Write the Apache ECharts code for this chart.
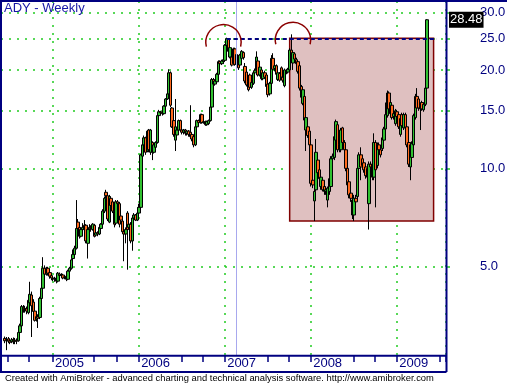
<!DOCTYPE html>
<html><head><meta charset="utf-8">
<script src="https://cdn.jsdelivr.net/npm/echarts@6/dist/echarts.min.js"></script>
<style>html,body{margin:0;padding:0;background:#fff}#c{width:507px;height:384px}</style>
</head><body><div id="c"></div>
<script>
// ---- data (weekly candles: [open, close, low, high]) ----
const firstCategoryDate = '2004-06-04';
const categoryCount = 269;
const firstBarIndex = 2;
const ohlc2004 = [
[3.02,2.97,2.92,3.06],[2.98,3.0,2.78,3.05],[3.01,2.96,2.92,3.05],[2.97,2.94,2.9,3.02],[2.95,2.99,2.92,3.03],
[3.0,2.95,2.9,3.04],[2.96,2.98,2.9,3.03],[2.98,2.96,2.9,3.02],[2.97,3.15,2.95,3.18],[3.15,3.3,3.1,3.35],
[3.3,3.78,3.25,3.82],[3.76,3.7,3.62,3.82],[3.7,3.73,3.62,3.8],[3.72,3.66,3.58,3.78],[3.62,3.95,3.58,4.0],
[3.88,4.12,3.82,4.5],[4.1,3.8,3.05,4.2],[3.9,3.65,3.6,3.98],[3.66,3.43,3.4,3.7],[3.45,3.52,3.4,3.58],
[3.52,3.48,3.25,3.58],[3.5,4.0,3.46,4.05],[4.0,4.3,3.95,4.38],[4.3,4.95,4.25,5.35],[4.95,4.75,4.68,5.05],
[4.75,4.95,4.7,5.0],[4.95,4.78,4.7,5.0],[4.8,4.68,4.6,4.85],[4.7,4.62,4.55,4.75]
];
const ohlc2005 = [
[4.62,4.6,4.52,4.68],[4.6,4.58,4.5,4.66],[4.62,4.52,4.45,4.66],[4.52,4.78,4.48,4.82],[4.75,4.7,4.62,4.8],
[4.7,4.72,4.62,4.78],[4.72,4.62,4.58,4.76],[4.64,4.66,4.58,4.72],[4.68,4.58,4.52,4.72],[4.58,4.85,4.55,4.9],
[4.85,4.95,4.8,5.0],[4.95,5.25,4.9,5.3],[5.3,5.45,5.2,5.65],[5.45,5.7,5.4,5.8],[5.7,6.55,5.65,8.0],
[6.85,6.55,6.45,7.0],[6.6,6.2,6.1,6.7],[6.2,6.5,6.15,6.6],[6.5,6.6,6.4,6.8],[6.7,6.5,6.4,6.95],
[6.7,6.0,5.9,6.75],[5.9,6.5,5.3,6.55],[6.5,6.6,6.4,6.75],[6.6,6.55,6.4,6.7],[6.5,6.75,6.45,6.8],
[6.7,6.2,6.15,6.75],[6.25,6.35,6.2,6.45],[6.35,6.3,6.2,6.42],[6.3,6.6,6.25,6.65],[6.55,6.75,6.5,6.8],
[6.75,7.4,6.7,7.5],[7.4,8.1,7.3,8.2],[8.45,8.25,8.1,8.6],[8.25,7.0,6.9,8.4],[6.85,8.2,6.8,8.3],
[8.1,7.7,7.6,8.2],[7.9,7.4,7.3,8.0],[7.4,6.75,6.6,7.5],[6.8,7.9,6.7,8.0],[7.9,7.8,7.6,8.0],
[7.8,6.75,6.6,7.9],[7.15,6.95,6.85,7.2],[6.9,6.4,6.3,7.0],[6.4,6.3,5.2,6.5],[6.3,6.5,5.9,6.6],
[7.3,6.5,4.9,7.4],[6.6,6.75,6.5,6.85],[6.75,6.0,5.9,6.85],[6.0,7.05,5.6,7.1],[7.05,7.2,6.95,7.3],
[7.2,6.95,6.9,7.25],[6.95,7.3,6.9,7.6]
];
const ohlc2006 = [
[7.3,7.6,7.2,7.8],[7.6,11.0,7.5,11.1],[10.9,11.8,9.6,12.0],[11.8,12.4,11.6,12.6],[12.4,11.2,11.0,12.5],
[11.3,13.0,11.2,13.1],[13.1,11.4,11.2,13.2],[11.2,13.1,11.0,13.2],[12.0,11.2,10.6,12.1],[11.2,11.8,11.1,11.9],
[11.6,12.0,11.5,12.1],[12.0,14.5,11.9,14.6],[14.5,14.9,14.4,15.1],[14.9,14.8,14.6,15.0],[14.8,14.7,14.5,15.0],
[14.7,15.5,14.6,15.6],[15.5,16.3,15.4,16.4],[16.3,16.9,16.2,17.0],[16.9,19.6,16.8,20.1],[19.6,15.6,15.4,19.8],
[15.3,13.4,13.3,15.4],[14.0,12.7,12.5,14.1],[12.2,13.4,11.3,16.3],[12.65,13.1,12.5,13.2],[13.1,14.0,13.0,14.1],
[14.0,13.1,13.0,14.1],[13.1,12.9,12.7,13.3],[12.9,13.1,12.7,13.2],[13.1,12.8,12.6,13.2],[12.8,13.0,12.6,13.1],
[13.0,12.7,12.5,13.1],[12.9,12.5,12.3,15.6],[12.7,12.3,12.1,12.8],[12.5,11.8,11.6,12.6],[11.8,13.4,11.7,13.5],
[13.4,14.0,13.3,14.1],[14.0,13.8,13.6,14.1],[13.8,14.6,13.7,14.7],[14.6,13.8,13.7,14.7],[13.8,13.9,13.7,14.0],
[13.9,13.6,13.5,14.0],[13.6,13.9,13.5,14.0],[13.7,14.0,13.6,14.1],[14.0,15.4,13.9,15.5],[15.4,18.7,15.3,18.9],
[18.7,18.1,17.9,18.9],[18.1,18.5,17.9,18.7],[18.4,19.4,18.2,19.6],[19.4,21.2,19.3,21.4],[21.2,20.9,20.7,21.4],
[20.9,21.3,20.7,21.5],[21.2,21.5,20.9,21.7]
];
const ohlc2007 = [
[21.4,23.8,21.2,24.0],[23.8,24.9,23.6,25.1],[24.9,22.8,22.6,25.0],[21.9,23.4,21.7,23.6],[21.9,20.7,20.5,23.3],
[20.9,23.2,20.7,23.4],[23.2,20.8,20.6,23.4],[20.8,22.3,20.6,22.5],[22.0,20.3,20.0,22.2],[20.7,22.2,20.5,22.4],
[21.7,22.8,21.5,23.0],[22.6,21.8,21.5,22.8],[20.5,18.5,18.2,21.0],[19.7,18.0,17.8,20.0],[18.4,17.4,17.2,18.6],
[19.3,17.7,17.5,19.5],[17.7,18.3,17.5,18.5],[18.2,19.6,18.0,19.8],[19.6,19.9,19.3,20.2],[20.0,21.9,19.8,22.8],
[21.3,19.3,19.1,21.6],[19.3,20.4,19.1,20.6],[20.0,18.8,18.6,20.2],[18.8,19.6,18.6,19.8],[19.6,19.0,18.8,19.9],
[19.3,17.8,17.6,19.5],[18.1,16.8,16.5,18.3],[16.9,18.2,16.7,18.4],[18.2,21.7,18.0,22.2],[21.7,20.1,19.9,22.5],
[20.2,20.6,19.8,21.0],[20.6,19.4,19.2,20.8],[18.7,19.6,18.5,19.8],[19.5,18.6,18.4,19.7],[20.3,19.0,18.8,20.5],
[19.0,18.6,18.3,19.3],[17.9,20.0,17.7,20.2],[19.9,19.7,19.4,20.1],[19.7,20.1,19.5,20.3],[20.0,23.0,19.8,23.3],
[23.0,21.6,21.3,25.7],[21.0,22.6,20.0,22.8],[22.4,21.6,21.3,22.6],[21.5,20.9,20.6,21.8],[21.2,19.8,19.5,21.4],
[20.6,17.6,17.3,20.8],[17.8,16.5,16.2,18.0],[15.8,17.4,15.6,17.6],[16.6,14.05,13.8,16.8],[13.1,14.3,11.3,14.5],
[13.4,12.6,12.4,13.6],[13.0,11.8,11.6,13.2]
];
const ohlc2008 = [
[11.8,9.0,8.8,12.0],[9.2,8.9,8.7,9.6],[7.95,8.5,6.9,8.7],[8.6,11.2,8.5,12.3],[10.6,9.7,9.5,10.9],
[9.9,9.3,9.1,10.1],[8.8,9.4,8.6,9.6],[9.2,8.6,8.5,9.3],[8.8,8.5,8.3,8.9],[8.5,8.6,8.3,8.8],
[8.0,8.7,7.6,8.8],[8.5,9.3,8.3,9.4],[8.8,10.7,8.6,10.9],[10.7,10.9,10.5,11.1],[10.8,12.5,10.6,12.7],
[12.2,13.9,12.0,14.1],[13.6,11.4,11.2,13.8],[11.4,11.8,11.2,12.0],[11.4,13.1,11.2,13.3],[13.3,12.0,11.8,13.4],
[12.0,11.4,11.2,12.2],[11.4,10.0,9.8,11.6],[10.0,8.9,8.7,10.2],[9.1,8.3,8.1,9.3],[8.4,8.1,7.9,8.6],
[8.0,7.2,7.0,8.2],[7.2,8.1,6.9,8.3],[8.1,7.9,7.7,8.3],[8.2,10.0,8.0,10.2],[10.0,11.0,9.9,11.2],
[11.0,10.1,9.2,11.6],[10.7,10.2,10.0,11.0],[10.4,9.9,9.7,10.6],[10.1,9.5,9.3,10.3],[10.0,9.4,9.2,10.2],
[7.8,10.3,6.5,10.5],[10.3,10.1,9.8,10.5],[10.3,9.4,9.2,10.5],[9.4,12.0,9.2,12.8],[12.0,9.9,7.6,12.2],
[10.2,11.8,10.0,12.0],[11.8,11.4,11.1,12.0],[11.4,11.0,10.8,11.7],[11.5,12.4,11.3,12.6],[12.2,13.2,12.0,13.4],
[13.2,14.6,13.0,15.9],[14.5,17.0,14.3,17.3],[17.0,15.2,15.0,17.2],[14.7,15.9,14.5,16.1],[15.6,14.3,14.1,15.8],
[14.4,14.7,14.1,14.9],[13.7,15.0,13.5,15.2]
];
const ohlc2009 = [
[14.9,14.4,14.2,15.1],[14.6,13.4,13.2,14.8],[12.7,14.2,12.5,14.4],[14.6,13.5,13.3,14.8],[13.3,14.6,13.1,14.8],
[14.6,13.3,13.1,14.8],[13.4,11.8,11.6,13.6],[12.0,10.3,10.1,12.2],[10.1,11.8,9.2,12.0],[10.8,11.9,10.6,12.1],
[11.8,14.5,11.6,14.7],[14.3,16.6,14.1,16.9],[16.6,15.3,15.0,17.6],[16.3,15.3,15.0,16.5],[15.6,15.2,13.1,15.9],
[15.9,15.2,15.0,16.1],[15.1,15.7,14.9,15.9],[15.7,17.6,15.5,17.8],[17.6,28.48,17.4,28.6]
];
const yTickValues = [5, 10, 15, 20, 25, 30];
const yRange = [2.687, 32.5];
const lastPrice = 28.48;
const boxCats = [174, 261];
const boxPrices = [25.0, 6.9];
const resistanceCats = [136, 263];
const resistancePrice = 25.0;
const cursorCat = 142;
const arcCats = [134, 176];
const arcPrices = [24.3, 24.7];

// ---- build ----
const categories = [];
const d0 = Date.parse(firstCategoryDate + 'T00:00:00Z');
for (let i = 0; i < categoryCount; i++) {
  categories.push(new Date(d0 + i * 7 * 86400000).toISOString().slice(0, 10));
}
const bars = [].concat(ohlc2004, ohlc2005, ohlc2006, ohlc2007, ohlc2008, ohlc2009);
const seriesData = categories.map((c, i) => {
  const b = bars[i - firstBarIndex];
  return b ? b : ['-', '-', '-', '-'];
});
const monthOf = i => categories[i].slice(5, 7);
const isMonthStart = i => i > 0 && monthOf(i) !== monthOf(i - 1);
const isYearStart = i => i > 0 && categories[i].slice(0, 4) !== categories[i - 1].slice(0, 4);
const isTick = i => isMonthStart(i) && ['01', '07', '10'].indexOf(monthOf(i)) >= 0;

const NAVY = '#000080';
const GRID_GREEN = '#22cc22';
const FONT = "'Liberation Sans', Arial, sans-serif";

const chart = echarts.init(document.getElementById('c'), null, {renderer: 'canvas'});
chart.setOption({
  animation: false,
  backgroundColor: '#fff',
  grid: {left: 1, right: 61, top: 1, bottom: 29, containLabel: false, outerBoundsMode: 'none'},
  xAxis: {
    type: 'category', data: categories, boundaryGap: true,
    axisLine: {show: false},
    axisTick: {show: true, interval: (i) => isTick(i), length: 7, lineStyle: {color: NAVY, width: 1.5}},
    axisLabel: {
      interval: (i) => isYearStart(i),
      formatter: v => v.slice(0, 4), align: 'left', padding: [0, 0, 0, 2], margin: 2,
      color: NAVY, fontSize: 13, fontFamily: FONT
    },
    splitLine: {show: true, interval: (i) => isYearStart(i), lineStyle: {color: GRID_GREEN, type: [2, 6], width: 1.5}}
  },
  yAxis: {
    type: 'log', logBase: 10, position: 'right', min: yRange[0], max: yRange[1],
    axisLine: {show: false},
    axisTick: {show: true, customValues: yTickValues, length: 4, lineStyle: {color: GRID_GREEN, width: 1.5}},
    axisLabel: {customValues: yTickValues, formatter: v => Number(v).toFixed(1), margin: 34,
      color: NAVY, fontSize: 13, fontFamily: FONT},
    splitLine: {show: true, lineStyle: {color: GRID_GREEN, type: [2, 6], width: 1.5}}
  },
  series: [
    {
      type: 'line', data: [], z: -1, silent: true,
      markArea: {silent: true, itemStyle: {color: '#dfc0c0', borderColor: '#800000', borderWidth: 1.5},
        data: [[{coord: [categories[boxCats[0]], boxPrices[0]]}, {coord: [categories[boxCats[1]], boxPrices[1]]}]]},
      markLine: {silent: true, symbol: ['none', 'none'], label: {show: false},
        lineStyle: {color: '#a8a8ee', type: 'solid', width: 1},
        data: [{xAxis: categories[cursorCat]}]}
    },
    {
      type: 'candlestick', data: seriesData, barWidth: 3,
      itemStyle: {color: '#30c030', color0: '#ff6a1e', borderColor: '#000', borderColor0: '#000', borderWidth: 1},
      markLine: {silent: true, symbol: ['none', 'none'], label: {show: false},
        lineStyle: {color: NAVY, type: [4, 3], width: 2},
        data: [[{coord: [categories[resistanceCats[0]], resistancePrice]}, {coord: [categories[resistanceCats[1]], resistancePrice]}]]}
    }
  ]
});

const pyLast = chart.convertToPixel({yAxisIndex: 0}, lastPrice);
const frameLine = (x1, y1, x2, y2) => ({type: 'line', z: 100, silent: true,
  shape: {x1, y1, x2, y2}, style: {stroke: NAVY, lineWidth: 2}});
const arcs = arcCats.map((c, i) => {
  const p = chart.convertToPixel({xAxisIndex: 0, yAxisIndex: 0}, [categories[c], arcPrices[i]]);
  return {type: 'arc', z: 100, silent: true,
    shape: {cx: p[0], cy: p[1], r: 17.7, startAngle: 166 * Math.PI / 180, endAngle: 374 * Math.PI / 180, clockwise: true},
    style: {stroke: '#8b0000', lineWidth: 1.5, fill: null}};
});
chart.setOption({
  graphic: [
    frameLine(0, 1, 507, 1),
    frameLine(1, 0, 1, 372),
    frameLine(446.5, 0, 446.5, 372),
    frameLine(0, 355.8, 446.5, 355.8),
    frameLine(0, 372, 446.5, 372),
    {type: 'text', z: 100, x: 4, y: 2, style: {text: 'ADY - Weekly', fill: '#1515a5', font: '13px ' + FONT}},
    {type: 'text', z: 100, x: 449, y: pyLast, style: {text: lastPrice.toFixed(2), fill: '#fff', backgroundColor: '#000',
      padding: [2, 1, 1, 1], verticalAlign: 'middle', font: '13px ' + FONT}},
    {type: 'text', z: 100, x: 5, y: 378, style: {text: 'Created with AmiBroker - advanced charting and technical analysis software. http://www.amibroker.com',
      fill: '#000', verticalAlign: 'middle', font: '9.4px ' + FONT}}
  ].concat(arcs)
});
</script>
</body></html>
